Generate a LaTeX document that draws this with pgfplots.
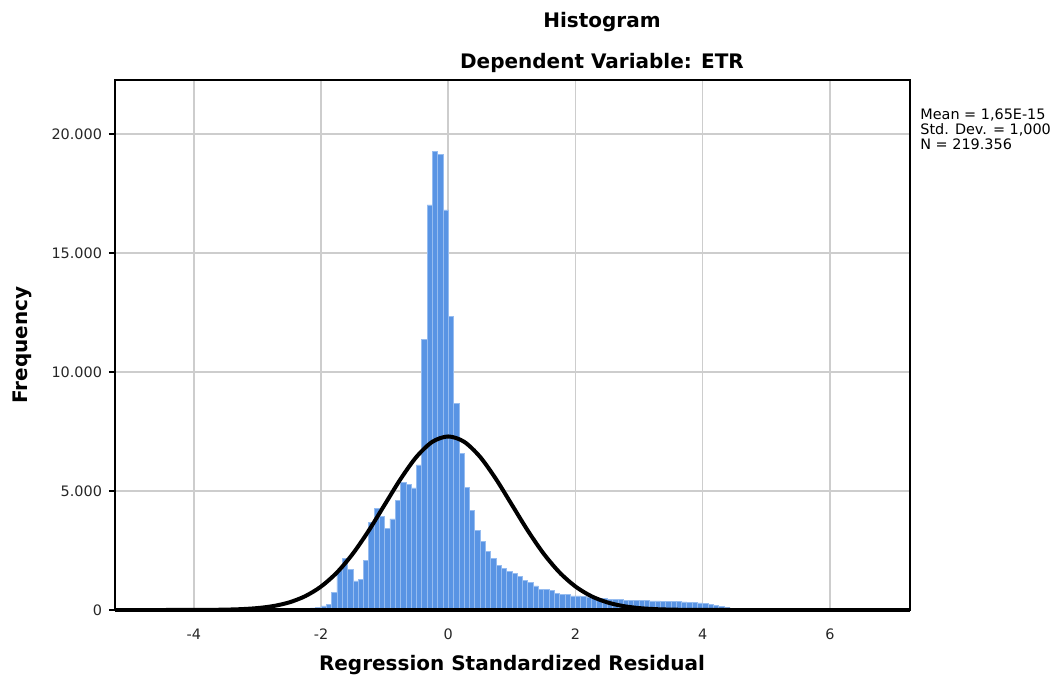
\documentclass[border=0pt]{standalone}
\usepackage{pgfplots}
\pgfplotsset{compat=1.18}
\usepackage{fontspec}
\setmainfont{DejaVu Sans}
\definecolor{barblue}{RGB}{89,148,228}
\definecolor{baredge}{RGB}{150,188,240}
\definecolor{gridgray}{RGB}{205,205,205}
\begin{document}
\begin{tikzpicture}
\useasboundingbox (-57.5pt,-36pt) rectangle (472pt,305pt);
\begin{axis}[
  scale only axis, width=397.5pt, height=265pt,
  xmin=-5.24, xmax=7.26, ymin=0, ymax=22270,
  xtick={-4,-2,0,2,4,6}, ytick={0,5000,10000,15000,20000},
  ytick pos=left,
  grid=major, major grid style={gridgray, line width=0.8pt},
  axis line style={black, line width=0.7pt},
  tick label style={font=\fontsize{7.2}{8}\selectfont, text=black!85},
  yticklabel style={/pgf/number format/.cd, 1000 sep={.}, assume math mode=true},
  xticklabel style={/pgf/number format/assume math mode=true, yshift=-3pt},
  scaled y ticks=false,
  xtick style={draw=none},
  ytick style={black, line width=0.6pt},
  tick align=outside, major tick length=3pt,
]
\addplot[ybar interval, fill=barblue, draw=baredge, line width=0.3pt] coordinates {
(-2.5833,8) (-2.5,12) (-2.4167,20) (-2.3333,35) (-2.25,55) (-2.1667,85) (-2.0833,125) (-2.0,175)
(-1.9167,240) (-1.8333,730) (-1.75,1650) (-1.6667,2170) (-1.5833,1700) (-1.5,1220) (-1.4167,1270)
(-1.3333,2070) (-1.25,3680) (-1.1667,4270) (-1.0833,3920) (-1.0,3440) (-0.9167,3830) (-0.8333,4620)
(-0.75,5370) (-0.6667,5280) (-0.5833,5130) (-0.5,6100) (-0.4167,11370) (-0.3333,17020) (-0.25,19260)
(-0.1667,19150) (-0.0833,16810) (0,12330) (0.0833,8690) (0.1667,6580) (0.25,5150) (0.3333,4180)
(0.4167,3360) (0.5,2870) (0.5833,2450) (0.6667,2170) (0.75,1890) (0.8333,1750) (0.9167,1610)
(1.0,1540) (1.0833,1400) (1.1667,1260) (1.25,1150) (1.3333,1010) (1.4167,880) (1.5,870) (1.5833,810)
(1.6667,700) (1.75,670) (1.8333,670) (1.9167,590) (2.0,590) (2.0833,560) (2.1667,530) (2.25,500)
(2.3333,490) (2.4167,480) (2.5,460) (2.5833,440) (2.6667,430) (2.75,420) (2.8333,410) (2.9167,400)
(3.0,400) (3.0833,390) (3.1667,380) (3.25,380) (3.3333,370) (3.4167,360) (3.5,350) (3.5833,350)
(3.6667,340) (3.75,330) (3.8333,320) (3.9167,300) (4.0,270) (4.0833,230) (4.1667,180) (4.25,140)
(4.3333,110) (4.4167,80) (4.5,60) (4.5833,40) (4.6667,25) (4.75,15) (4.8333,0)
};
\addplot[black, line width=2pt, smooth] coordinates {
(-5.25,0) (-5,0.03) (-4.5,0.29) (-4,2.45) (-3.75,6.4) (-3.5,16.0) (-3.25,37.1) (-3,81.0)
(-2.75,166.2) (-2.5,320.4) (-2.25,580.2) (-2,986.9) (-1.75,1577) (-1.5,2367) (-1.25,3338)
(-1,4423) (-0.75,5504) (-0.5,6435) (-0.25,7068) (0,7292) (0.25,7068) (0.5,6435) (0.75,5504)
(1,4423) (1.25,3338) (1.5,2367) (1.75,1577) (2,986.9) (2.25,580.2) (2.5,320.4) (2.75,166.2)
(3,81.0) (3.25,37.1) (3.5,16.0) (3.75,6.4) (4,2.45) (4.5,0.29) (5,0.03) (5.5,0) (6,0) (6.5,0) (7,0) (7.26,0)
};
\end{axis}
\draw[black, line width=2pt] (0,0) -- (397.5pt,0);
\node[font=\bfseries\fontsize{10}{12}\selectfont] at (243.5pt,294pt) {Histogram};
\node[font=\bfseries\fontsize{10}{12}\selectfont] at (243.5pt,273.5pt) {Dependent Variable: ETR};
\node[font=\bfseries\fontsize{10}{12}\selectfont] at (198.5pt,-27.5pt) {Regression Standardized Residual};
\node[font=\bfseries\fontsize{10}{12}\selectfont, rotate=90] at (-46.5pt,132.5pt) {Frequency};
\node[anchor=north west, align=left, inner sep=0pt, font=\fontsize{7.2}{7.5}\selectfont] at (402.5pt,251pt) {Mean = 1,65E-15\\Std. Dev. = 1,000\\N = 219.356};
\end{tikzpicture}
\end{document}
